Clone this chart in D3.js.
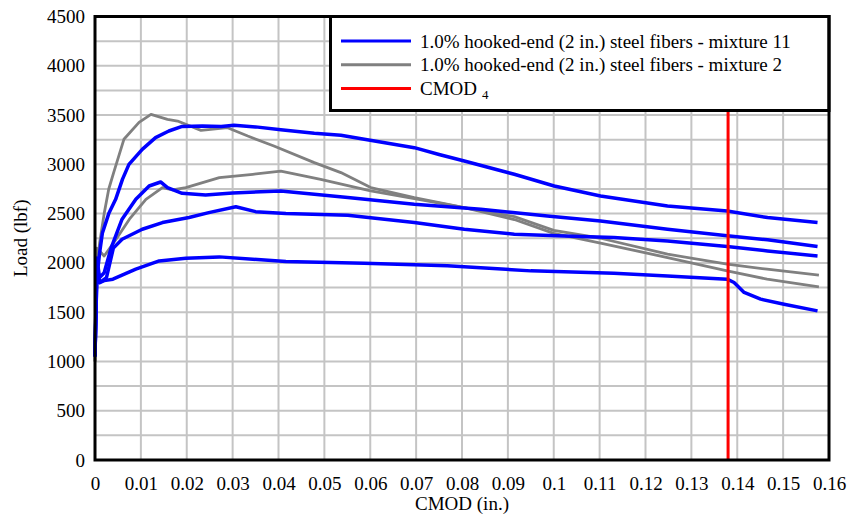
<!DOCTYPE html>
<html>
<head>
<meta charset="utf-8">
<script src="https://cdn.jsdelivr.net/npm/d3@7"></script>
<style>
  body { margin: 0; background: #fff; }
  svg { display: block; }
  svg text { font-family: 'Liberation Serif', 'Times New Roman', serif !important; }
</style>
</head>
<body>
<div id="chart"></div>
<script>
// CMOD (in.), Load (lbf)
const mix11a = [[0,1080],[0.0004,1850],[0.001,2100],[0.0016,2300],[0.003,2500],[0.0045,2645],[0.006,2850],[0.0074,3000],[0.0103,3152],[0.0132,3271],[0.0161,3338],[0.019,3385],[0.0234,3389],[0.0275,3385],[0.0303,3396],[0.035,3380],[0.0405,3350],[0.0478,3315],[0.0536,3295],[0.0587,3255],[0.0696,3169],[0.075,3100],[0.0805,3034],[0.0914,2899],[0.1001,2780],[0.1102,2679],[0.1248,2578],[0.1378,2527],[0.1466,2460],[0.1575,2409]]
const mix11b = [[0,1050],[0.0004,2050],[0.001,1850],[0.002,1900],[0.0035,2150],[0.0059,2443],[0.0089,2645],[0.0118,2780],[0.0143,2821],[0.0158,2764],[0.019,2706],[0.0241,2690],[0.03,2710],[0.0405,2730],[0.0551,2663],[0.0696,2595],[0.0841,2544],[0.0986,2476],[0.1102,2426],[0.1248,2341],[0.1378,2275],[0.1466,2235],[0.1575,2166]]
const mix11c = [[0,1050],[0.0004,2000],[0.001,1800],[0.0025,1850],[0.004,2150],[0.0059,2240],[0.0103,2341],[0.0147,2409],[0.0205,2460],[0.0248,2510],[0.0307,2570],[0.035,2520],[0.0416,2500],[0.0551,2483],[0.0696,2409],[0.0805,2341],[0.0914,2291],[0.1023,2273],[0.1131,2257],[0.1248,2223],[0.1378,2166],[0.1466,2121],[0.1575,2071]]
const mix11d = [[0,1050],[0.0004,1900],[0.001,1800],[0.002,1820],[0.0039,1835],[0.0089,1936],[0.014,2020],[0.0198,2047],[0.0271,2061],[0.0344,2037],[0.0416,2014],[0.0587,1997],[0.0768,1970],[0.095,1919],[0.1131,1895],[0.1248,1868],[0.1378,1835],[0.1393,1801],[0.1415,1700],[0.1451,1632],[0.1502,1581],[0.1575,1513]]
const mix2a = [[0,1000],[0.0003,1900],[0.001,2200],[0.002,2500],[0.003,2750],[0.0041,2920],[0.0063,3254],[0.0096,3426],[0.0122,3507],[0.0158,3456],[0.018,3439],[0.0231,3345],[0.0289,3372],[0.0333,3287],[0.039,3186],[0.0478,3017],[0.0536,2916],[0.0601,2764],[0.0696,2663],[0.0805,2561],[0.0914,2440],[0.1,2300],[0.1102,2200],[0.1248,2054],[0.1378,1919],[0.1465,1835],[0.1578,1757]]
const mix2b = [[0,1000],[0.0004,2150],[0.002,2070],[0.0046,2240],[0.0075,2443],[0.0111,2645],[0.0147,2764],[0.0169,2740],[0.0198,2764],[0.0271,2865],[0.0344,2899],[0.0405,2932],[0.0492,2848],[0.0601,2730],[0.0696,2652],[0.0805,2560],[0.0914,2470],[0.1,2330],[0.1102,2250],[0.1248,2088],[0.1378,1987],[0.1465,1936],[0.1578,1875]]
const cmod4 = 0.138

const xTicks = d3.range(0, 17).map(i => i / 100)
const yTicks = d3.range(0, 4501, 500)
const yGrid = d3.range(0, 4501, 250)

const legendItems = [
  { label: '1.0% hooked-end (2 in.) steel fibers - mixture 11', color: '#0000ff' },
  { label: '1.0% hooked-end (2 in.) steel fibers - mixture 2', color: '#808080' },
  { label: 'CMOD', sub: '4', color: '#ff0000' }
]

const font = "'Liberation Serif', 'Times New Roman', serif"
const width = 850
const height = 517
const margin = { top: 16.5, right: 21, bottom: 57, left: 95 }

const svg = d3.select('#chart').append('svg')
  .attr('width', width)
  .attr('height', height)
  .attr('font-family', font)

const x = d3.scaleLinear().domain([0, 0.16]).range([margin.left, width - margin.right])
const y = d3.scaleLinear().domain([0, 4500]).range([height - margin.bottom, margin.top])

// grid
svg.append('g')
  .selectAll('line')
  .data(xTicks)
  .join('line')
  .attr('x1', d => x(d)).attr('x2', d => x(d))
  .attr('y1', y(0)).attr('y2', y(4500))
  .attr('stroke', '#c4c4c4').attr('stroke-width', 2)
svg.append('g')
  .selectAll('line')
  .data(yGrid)
  .join('line')
  .attr('x1', x(0)).attr('x2', x(0.16))
  .attr('y1', d => y(d)).attr('y2', d => y(d))
  .attr('stroke', '#c4c4c4').attr('stroke-width', 2)

// axes
svg.append('g')
  .attr('transform', `translate(0,${y(0)})`)
  .call(d3.axisBottom(x).tickValues(xTicks).tickSize(0).tickPadding(17)
    .tickFormat(d => String(+d.toFixed(2))))
  .call(g => g.attr('font-family', font).attr('font-size', 19))
svg.append('g')
  .attr('transform', `translate(${x(0)},0)`)
  .call(d3.axisLeft(y).tickValues(yTicks).tickSize(0).tickPadding(10)
    .tickFormat(d3.format('d')))
  .call(g => g.attr('font-family', font).attr('font-size', 19))
svg.selectAll('.domain').remove()
svg.selectAll('.tick text').attr('fill', '#000').attr('font-family', font)

// curves
const line = d3.line().x(d => x(d[0])).y(d => y(d[1]))
const curves = [
  { data: mix2a, color: '#808080', w: 2.8 },
  { data: mix2b, color: '#808080', w: 2.8 },
  { data: mix11a, color: '#0000ff', w: 3.5 },
  { data: mix11b, color: '#0000ff', w: 3.5 },
  { data: mix11c, color: '#0000ff', w: 3.5 },
  { data: mix11d, color: '#0000ff', w: 3.5 }
]
svg.append('g')
  .selectAll('path')
  .data(curves)
  .join('path')
  .attr('d', d => line(d.data))
  .attr('fill', 'none')
  .attr('stroke', d => d.color)
  .attr('stroke-width', d => d.w)
  .attr('stroke-linejoin', 'round')

svg.append('line')
  .attr('x1', x(cmod4)).attr('x2', x(cmod4))
  .attr('y1', y(0)).attr('y2', y(4500))
  .attr('stroke', '#ff0000').attr('stroke-width', 3)

// legend
const legend = svg.append('g')
legend.append('rect')
  .attr('x', 330.5).attr('y', margin.top)
  .attr('width', x(0.16) - 330.5).attr('height', 94)
  .attr('fill', '#fff').attr('stroke', '#000').attr('stroke-width', 3)
const rows = legend.selectAll('g.row')
  .data(legendItems)
  .join('g')
  .attr('class', 'row')
  .attr('transform', (d, i) => `translate(0,${41 + i * 23.8})`)
rows.append('line')
  .attr('x1', 341).attr('x2', 411)
  .attr('stroke', d => d.color).attr('stroke-width', 3)
const labels = rows.append('text')
  .attr('x', 420).attr('y', 6.5)
  .attr('font-size', 19)
  .text(d => d.label)
labels.filter(d => d.sub)
  .append('tspan')
  .attr('dx', 5).attr('dy', 4)
  .attr('font-size', 13)
  .text(d => d.sub)

// frame
svg.append('rect')
  .attr('x', x(0)).attr('y', y(4500))
  .attr('width', x(0.16) - x(0)).attr('height', y(0) - y(4500))
  .attr('fill', 'none').attr('stroke', '#000').attr('stroke-width', 3)

// titles
svg.append('text')
  .attr('x', (x(0) + x(0.16)) / 2).attr('y', 510)
  .attr('text-anchor', 'middle').attr('font-size', 19)
  .text('CMOD (in.)')
svg.append('text')
  .attr('transform', `translate(27,${(y(0) + y(4500)) / 2}) rotate(-90)`)
  .attr('text-anchor', 'middle').attr('font-size', 19)
  .text('Load (lbf)')
</script>
</body>
</html>
